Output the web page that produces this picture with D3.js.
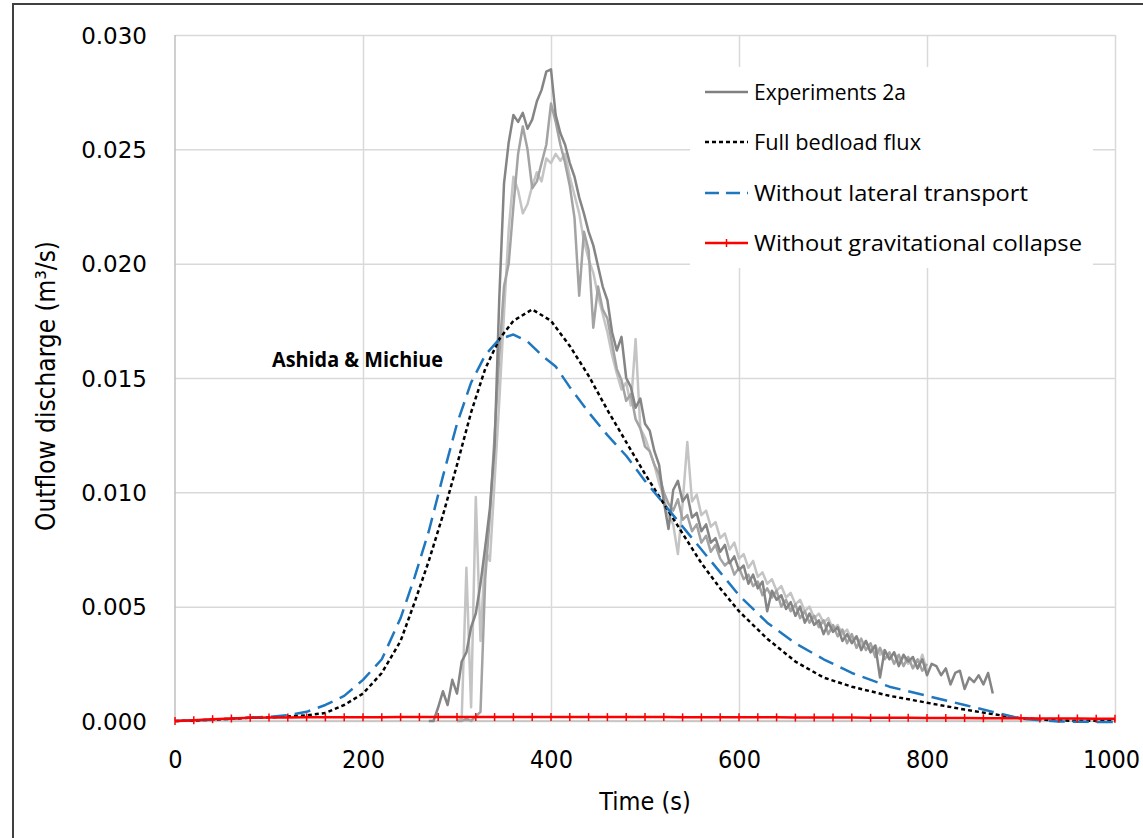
<!DOCTYPE html>
<html>
<head>
<meta charset="utf-8">
<script src="https://cdn.jsdelivr.net/npm/d3@7"></script>
<style>
  body { margin: 0; background: #fff; }
  svg { display: block; }
</style>
</head>
<body>
<svg id="chart" width="1143" height="838"></svg>
<script>
// axis ticks
const xTicks = [0, 200, 400, 600, 800, 1000];
const yTicks = [0, 0.005, 0.010, 0.015, 0.020, 0.025, 0.030];

// model curves (time in s, discharge in m3/s)
const fullTime = [0, 20, 40, 60, 80, 100, 120, 140, 160, 180, 200, 220, 240, 255, 270, 285, 300, 315, 330, 345, 360, 380, 400, 420, 440, 460, 480, 500, 520, 540, 560, 580, 600, 630, 660, 690, 720, 760, 800, 840, 870, 900, 940, 1000];
const fullFlux = [0, 0.00002, 0.00006, 0.0001, 0.00014, 0.00016, 0.0002, 0.00025, 0.00035, 0.0007, 0.0012, 0.0021, 0.0035, 0.0052, 0.0070, 0.0090, 0.0112, 0.0135, 0.0154, 0.0167, 0.0175, 0.0180, 0.0175, 0.0164, 0.0151, 0.0136, 0.0122, 0.0108, 0.0095, 0.0082, 0.0069, 0.0058, 0.0048, 0.0036, 0.0026, 0.0019, 0.0015, 0.0011, 0.0008, 0.0005, 0.0003, 0.00012, 0.00002, 0];

const noLatTime = [0, 20, 40, 60, 80, 100, 120, 140, 160, 180, 200, 220, 240, 255, 270, 285, 300, 315, 330, 345, 360, 375, 390, 405, 420, 440, 460, 480, 500, 520, 540, 560, 580, 600, 630, 660, 690, 720, 760, 800, 840, 870, 900, 940, 1000];
const noLatFlux = [0, 0.00002, 0.00006, 0.0001, 0.00015, 0.00018, 0.00025, 0.0004, 0.0007, 0.0011, 0.0018, 0.0027, 0.0045, 0.0063, 0.0083, 0.0107, 0.0130, 0.0148, 0.0160, 0.0167, 0.0169, 0.0166, 0.0160, 0.0155, 0.0146, 0.0135, 0.0125, 0.0116, 0.0105, 0.0095, 0.0085, 0.0075, 0.0065, 0.0055, 0.0043, 0.0034, 0.0027, 0.0021, 0.0015, 0.0011, 0.0007, 0.0004, 0.0001, -0.00002, -0.00005];

const noCollTime = d3.range(0, 1001, 20);
const noCollFlux = [0, 0.00003, 0.00008, 0.00011, 0.00014, 0.00015, 0.00015, 0.00016, 0.00016, 0.00016, 0.00016, 0.00016, 0.00017, 0.00017, 0.00017, 0.00017, 0.00017, 0.00017, 0.00017, 0.00017, 0.00017, 0.00017, 0.00017, 0.00017, 0.00017, 0.00017, 0.00017, 0.00016, 0.00016, 0.00016, 0.00016, 0.00016, 0.00016, 0.00015, 0.00015, 0.00015, 0.00015, 0.00014, 0.00014, 0.00014, 0.00013, 0.00013, 0.00013, 0.00012, 0.00012, 0.00012, 0.00011, 0.00011, 0.00011, 0.0001, 0.0001];

// experiments 2a, three runs sampled every 5 s
const expTimeA = d3.range(270, 871, 5);
const expFluxA = [0, 0, 0.0006, 0.0013, 0.0007, 0.0018, 0.0012, 0.0026, 0.0030, 0.0041, 0.0047, 0.0060, 0.0076, 0.0093, 0.0120, 0.0185, 0.0235, 0.0253, 0.0265, 0.0262, 0.0266, 0.0259, 0.0263, 0.0271, 0.0276, 0.0284, 0.0285, 0.0265, 0.0257, 0.0252, 0.0244, 0.0238, 0.0229, 0.0222, 0.0214, 0.0208, 0.0199, 0.0190, 0.0184, 0.0170, 0.0162, 0.0168, 0.0150, 0.0146, 0.0137, 0.0141, 0.0130, 0.0127, 0.0118, 0.0112, 0.0096, 0.0084, 0.0101, 0.0105, 0.0096, 0.0099, 0.0089, 0.0091, 0.0083, 0.0086, 0.0078, 0.0080, 0.0074, 0.0077, 0.0069, 0.0072, 0.0066, 0.0068, 0.0060, 0.0064, 0.0058, 0.0061, 0.0048, 0.0057, 0.0053, 0.0055, 0.0049, 0.0052, 0.0046, 0.0050, 0.0043, 0.0047, 0.0042, 0.0044, 0.0038, 0.0043, 0.0039, 0.0041, 0.0035, 0.0038, 0.0034, 0.0037, 0.0031, 0.0035, 0.0030, 0.0033, 0.0019, 0.0031, 0.0027, 0.0030, 0.0024, 0.0029, 0.0026, 0.0028, 0.0023, 0.0027, 0.0020, 0.0025, 0.0024, 0.0020, 0.0023, 0.0016, 0.0021, 0.0022, 0.0014, 0.0019, 0.0017, 0.0020, 0.0016, 0.0021, 0.0012];

const expTimeB = d3.range(300, 801, 5);
const expFluxB = [0, 0, 0.0001, 0, 0.0002, 0.0004, 0.0062, 0.0090, 0.0125, 0.0160, 0.0190, 0.0200, 0.0225, 0.0248, 0.0260, 0.0250, 0.0233, 0.0236, 0.0244, 0.0252, 0.0270, 0.0262, 0.0252, 0.0244, 0.0234, 0.0220, 0.0186, 0.0214, 0.0206, 0.0172, 0.0190, 0.0180, 0.0176, 0.0165, 0.0154, 0.0149, 0.0140, 0.0143, 0.0132, 0.0128, 0.0120, 0.0118, 0.0112, 0.0108, 0.0100, 0.0095, 0.0092, 0.0097, 0.0088, 0.0090, 0.0083, 0.0086, 0.0078, 0.0081, 0.0074, 0.0077, 0.0071, 0.0068, 0.0070, 0.0064, 0.0067, 0.0062, 0.0064, 0.0059, 0.0061, 0.0055, 0.0058, 0.0054, 0.0057, 0.0050, 0.0053, 0.0048, 0.0051, 0.0045, 0.0048, 0.0043, 0.0046, 0.0041, 0.0044, 0.0038, 0.0042, 0.0037, 0.0040, 0.0034, 0.0038, 0.0032, 0.0036, 0.0031, 0.0034, 0.0028, 0.0032, 0.0027, 0.0030, 0.0025, 0.0029, 0.0024, 0.0028, 0.0023, 0.0027, 0.0022, 0.0025];

const expTimeC = d3.range(300, 801, 5);
const expFluxC = [0, 0.0001, 0.0067, 0.0006, 0.0098, 0.0035, 0.0075, 0.0070, 0.0105, 0.0140, 0.0178, 0.0215, 0.0238, 0.0232, 0.0222, 0.0226, 0.0234, 0.0240, 0.0236, 0.0246, 0.0244, 0.0248, 0.0245, 0.0248, 0.0238, 0.0230, 0.0222, 0.0210, 0.0202, 0.0196, 0.0186, 0.0178, 0.0170, 0.0160, 0.0152, 0.0145, 0.0148, 0.0138, 0.0167, 0.0128, 0.0124, 0.0118, 0.0112, 0.0104, 0.0098, 0.0090, 0.0086, 0.0073, 0.0095, 0.0122, 0.0096, 0.0099, 0.0090, 0.0092, 0.0085, 0.0087, 0.0080, 0.0082, 0.0075, 0.0078, 0.0071, 0.0073, 0.0067, 0.0070, 0.0063, 0.0065, 0.0060, 0.0062, 0.0057, 0.0059, 0.0054, 0.0056, 0.0051, 0.0053, 0.0048, 0.0050, 0.0045, 0.0047, 0.0043, 0.0045, 0.0040, 0.0042, 0.0038, 0.0040, 0.0035, 0.0037, 0.0033, 0.0035, 0.0031, 0.0033, 0.0029, 0.0031, 0.0027, 0.0030, 0.0026, 0.0028, 0.0025, 0.0027, 0.0023, 0.0029, 0.0022];

const legendLabels = ["Experiments 2a", "Full bedload flux", "Without lateral transport", "Without gravitational collapse"];

const svg = d3.select("#chart");
const x = d3.scaleLinear().domain([0, 1000]).range([175, 1115]);
const y = d3.scaleLinear().domain([0, 0.03]).range([721, 35]);

// outer frame
svg.append("rect")
   .attr("x", 13).attr("y", 4)
   .attr("width", 1160).attr("height", 860)
   .attr("fill", "#fff")
   .attr("stroke", "#404040")
   .attr("stroke-width", 2);

// grid
svg.append("g")
   .attr("transform", "translate(175,0)")
   .call(d3.axisLeft(y).tickValues(yTicks).tickSize(-940).tickFormat(""))
   .call(g => g.select(".domain").remove())
   .call(g => g.selectAll("line").attr("stroke", "#d9d9d9").attr("stroke-width", 1.5));

svg.append("g")
   .attr("transform", "translate(0,721)")
   .call(d3.axisBottom(x).tickValues(xTicks.slice(1)).tickSize(-686).tickFormat(""))
   .call(g => g.select(".domain").remove())
   .call(g => g.selectAll("line").attr("stroke", "#d9d9d9").attr("stroke-width", 1.5));

// axis lines
svg.append("line").attr("x1", 175).attr("x2", 175).attr("y1", 35).attr("y2", 721)
   .attr("stroke", "#bfbfbf").attr("stroke-width", 1.5);
svg.append("line").attr("x1", 175).attr("x2", 1115).attr("y1", 721).attr("y2", 721)
   .attr("stroke", "#bfbfbf").attr("stroke-width", 1.5);

// tick labels
svg.append("g")
   .attr("transform", "translate(147,0)")
   .call(d3.axisLeft(y).tickValues(yTicks).tickSize(0).tickFormat(d3.format(".3f")))
   .call(g => g.select(".domain").remove())
   .call(g => g.selectAll("text")
      .attr("x", 0).attr("dy", "0.36em")
      .attr("fill", "#000")
      .style("font-family", "'DejaVu Sans', Verdana, sans-serif")
      .style("font-size", "23px"));

svg.append("g")
   .attr("transform", "translate(0,750)")
   .call(d3.axisBottom(x).tickValues(xTicks).tickSize(0).tickFormat(d3.format("d")))
   .call(g => g.select(".domain").remove())
   .call(g => g.selectAll("text")
      .attr("y", 0).attr("dy", "0.71em")
      .attr("fill", "#000")
      .style("font-family", "'Liberation Sans Narrow', 'DejaVu Sans Condensed', sans-serif")
      .style("font-size", "25px"))
   .call(g => g.selectAll("text").filter(d => d === 1000).attr("x", -4));

// axis titles
svg.append("text")
   .attr("x", 645).attr("y", 810)
   .attr("text-anchor", "middle")
   .style("font-family", "'Liberation Sans Narrow', 'DejaVu Sans Condensed', sans-serif")
   .style("font-size", "25px")
   .text("Time (s)");

svg.append("text")
   .attr("transform", "translate(55,386) rotate(-90)")
   .attr("text-anchor", "middle")
   .style("font-family", "'Liberation Sans Narrow', 'DejaVu Sans Condensed', sans-serif")
   .style("font-size", "26px")
   .text("Outflow discharge (m³/s)");

// legend box
svg.append("rect")
   .attr("x", 690).attr("y", 67)
   .attr("width", 403).attr("height", 201)
   .attr("fill", "#fff");

const line = d3.line().x(d => x(d[0])).y(d => y(d[1]));

function draw(times, values, color, width, dash) {
  svg.append("path")
     .datum(times.map((t, i) => [t, values[i]]))
     .attr("d", line)
     .attr("fill", "none")
     .attr("stroke", color)
     .attr("stroke-width", width)
     .attr("stroke-linejoin", "round")
     .attr("stroke-dasharray", dash);
}

draw(expTimeC, expFluxC, "#c4c4c4", 2.5, null);
draw(expTimeB, expFluxB, "#a3a3a3", 2.5, null);
draw(expTimeA, expFluxA, "#858585", 2.5, null);
draw(fullTime, fullFlux, "#000", 2.5, "4,3");
draw(noLatTime, noLatFlux, "#1f77bf", 2.5, "16,8");
draw(noCollTime, noCollFlux, "#ff0000", 2.5, null);

svg.append("g").selectAll("path")
   .data(noCollTime.map((t, i) => [t, noCollFlux[i]]))
   .join("path")
   .attr("d", d => `M${x(d[0])},${y(d[1]) - 4}V${y(d[1]) + 4}`)
   .attr("stroke", "#ff0000")
   .attr("stroke-width", 1.5);

// annotation
svg.append("text")
   .attr("x", 272).attr("y", 367)
   .attr("textLength", 171)
   .attr("lengthAdjust", "spacingAndGlyphs")
   .style("font-family", "'Open Sans', sans-serif")
   .style("font-weight", "bold")
   .style("font-size", "21px")
   .text("Ashida & Michiue");

// legend
const legendY = [92, 142, 193, 243];
const lg = svg.append("g");
const swatch = [
  {color: "#808080", dash: null},
  {color: "#000", dash: "4,3"},
  {color: "#1f77bf", dash: "14,7"},
  {color: "#ff0000", dash: null}
];
legendLabels.forEach((label, i) => {
  lg.append("line")
    .attr("x1", 705).attr("x2", 748)
    .attr("y1", legendY[i]).attr("y2", legendY[i])
    .attr("stroke", swatch[i].color)
    .attr("stroke-width", 2.5)
    .attr("stroke-dasharray", swatch[i].dash);
  if (i === 3) {
    lg.append("path")
      .attr("d", `M726.5,${legendY[i] - 4}V${legendY[i] + 4}`)
      .attr("stroke", "#ff0000").attr("stroke-width", 1.5);
  }
  lg.append("text")
    .attr("x", 754).attr("y", legendY[i] + 8)
    .style("font-family", "'Open Sans', sans-serif")
    .style("font-size", "22px")
    .attr("textLength", [152, 167, 274, 328][i])
    .attr("lengthAdjust", "spacingAndGlyphs")
    .text(label);
});
</script>
</body>
</html>
